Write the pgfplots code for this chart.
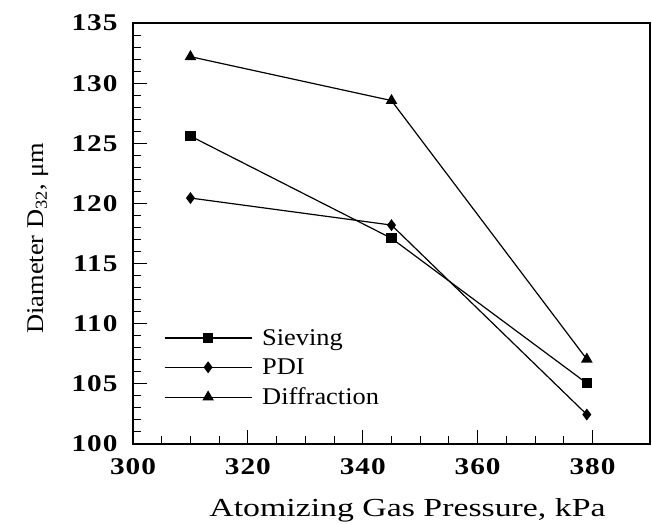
\documentclass[border=0pt]{standalone}
\usepackage{fontspec}
\setmainfont{Liberation Serif}[FakeStretch=1.1]
\newfontfamily\tickfont{Liberation Serif}[LetterSpace=4,FakeStretch=1.22]
\newfontfamily\xlabfont{Liberation Serif}[FakeStretch=1.3]
\newfontfamily\ylabfont{Liberation Serif}[FakeStretch=1.1]
\usepackage{pgfplots}
\pgfplotsset{compat=1.18}

\begin{document}
\begin{tikzpicture}
\begin{axis}[
  scale only axis,
  width=517pt, height=421pt,
  xmin=300, xmax=390, ymin=100, ymax=135,
  xtick={300,320,...,380}, ytick={100,105,...,135},
  minor x tick num=3, minor y tick num=4,
  tick pos=left, tick align=inside,
  major tick length=14pt, minor tick length=8pt,
  every tick/.style={black, line width=1pt},
  axis line style={line width=1.7pt},
  /pgf/number format/assume math mode=true,
  /pgf/number format/1000 sep={},
  tick label style={font=\tickfont\bfseries\fontsize{24}{26}\selectfont},
  xticklabel style={yshift=-11pt},
  yticklabel style={xshift=-12pt},
  xlabel={Atomizing Gas Pressure, kPa},
  ylabel={Diameter D\textsubscript{32}, μm},
  xlabel style={font=\xlabfont\fontsize{26}{28}\selectfont,
    at={(axis description cs:0.531,-0.157)}, anchor=center},
  ylabel style={font=\ylabfont\fontsize{24}{26}\selectfont,
    at={(axis description cs:-0.184,0.489)}, anchor=center},
  legend cell align=left,
  legend style={draw=none, fill=none, inner sep=0pt, outer sep=0pt,
    at={(axis description cs:0.06,0.181)}, anchor=west,
    font=\fontsize{24}{26}\selectfont, row sep=6pt,
    nodes={inner xsep=10pt, inner ysep=3pt}},
  legend image code/.code={\draw[mark repeat=2,mark phase=2,#1]
    plot coordinates {(0pt,0pt) (43.5pt,0pt) (87pt,0pt)};},
  every axis plot/.append style={black, line width=1.2pt, mark options={solid, fill=black}},
]
\addplot[mark=square*, mark size=4.5pt] coordinates {(310,125.6) (345,117.1) (379,105.05)};
\addlegendentry{Sieving}
\addplot[mark=diamond*, mark size=5pt] coordinates {(310,120.45) (345,118.2) (379,102.45)};
\addlegendentry{PDI}
\addplot[mark=triangle*, mark size=5.5pt] coordinates {(310,132.2) (345,128.55) (379,107.05)};
\addlegendentry{Diffraction}
\end{axis}
\pgfresetboundingbox
\path (current axis.south west) ++(-133pt,-79pt) rectangle ++(652pt,523pt);
\end{tikzpicture}
\end{document}
